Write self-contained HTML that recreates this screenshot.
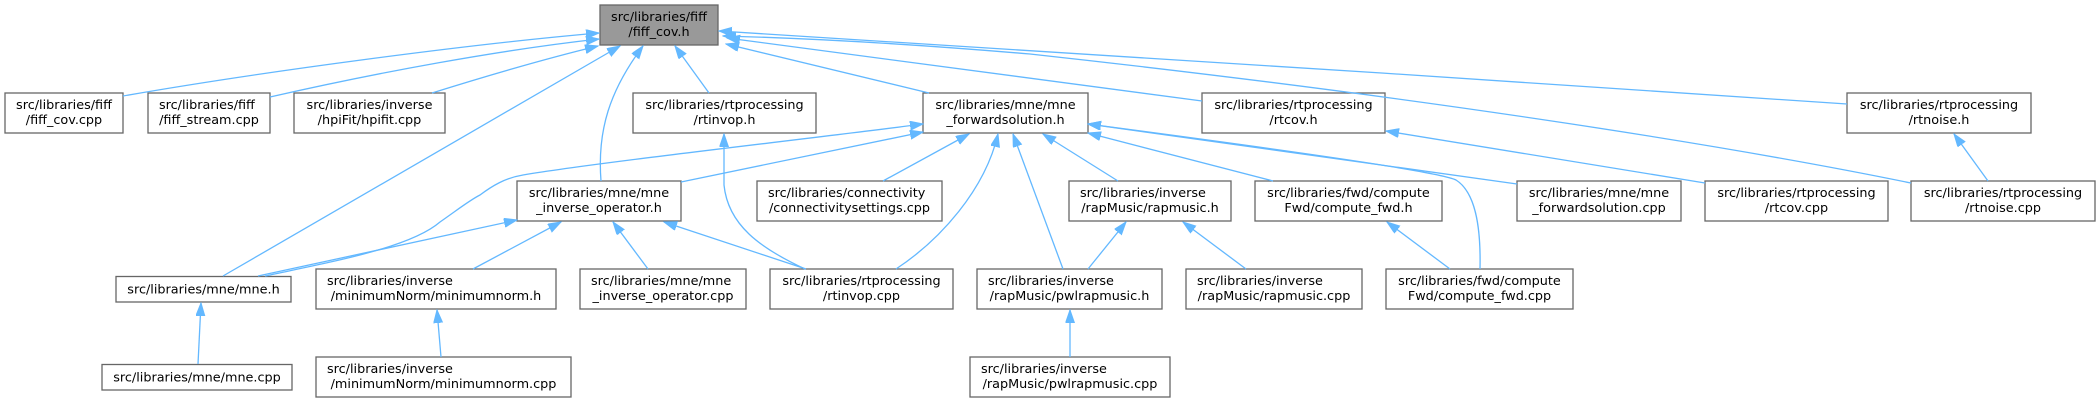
<!DOCTYPE html>
<html>
<head>
<meta charset="utf-8">
<style>
html,body{margin:0;padding:0;background:#fff;}
svg{display:block;}
text{font-family:"DejaVu Sans","Liberation Sans",sans-serif;font-size:12.8px;fill:#000;}
.b{fill:#fff;stroke:#666;stroke-width:1.3;}
.g{fill:#999;stroke:#666;stroke-width:1.3;}
.e{fill:none;stroke:#63b8ff;stroke-width:1.3;marker-end:url(#ah);}
</style>
</head>
<body>
<svg width="2100" height="403" viewBox="0 0 2100 403" xmlns="http://www.w3.org/2000/svg">
<defs>
<marker id="ah" markerWidth="14" markerHeight="10" refX="13" refY="4.5" orient="auto" markerUnits="userSpaceOnUse">
<path d="M0,0 L13,4.5 L0,9 z" fill="#63b8ff" stroke="#63b8ff" stroke-width="1"/>
</marker>
</defs>

<!-- Nodes -->
<!-- rank 0 -->
<rect class="g" x="600" y="5" width="118" height="40"/>
<text x="659" y="21" text-anchor="middle">src/libraries/fiff</text>
<text x="659" y="36" text-anchor="middle">/fiff_cov.h</text>

<!-- rank 1 -->
<rect class="b" x="5" y="93" width="118" height="40"/>
<text x="64" y="109" text-anchor="middle">src/libraries/fiff</text>
<text x="64" y="124" text-anchor="middle">/fiff_cov.cpp</text>

<rect class="b" x="148" y="93" width="122" height="40"/>
<text x="159" y="109">src/libraries/fiff</text>
<text x="209" y="124" text-anchor="middle">/fiff_stream.cpp</text>

<rect class="b" x="294" y="93" width="151" height="40"/>
<text x="369.5" y="109" text-anchor="middle">src/libraries/inverse</text>
<text x="369.5" y="124" text-anchor="middle">/hpiFit/hpifit.cpp</text>

<rect class="b" x="633" y="93" width="183" height="40"/>
<text x="724.5" y="109" text-anchor="middle">src/libraries/rtprocessing</text>
<text x="724.5" y="124" text-anchor="middle">/rtinvop.h</text>

<rect class="b" x="923" y="93" width="165" height="40"/>
<text x="1005.5" y="109" text-anchor="middle">src/libraries/mne/mne</text>
<text x="1005.5" y="124" text-anchor="middle">_forwardsolution.h</text>

<rect class="b" x="1202" y="93" width="183" height="40"/>
<text x="1293.5" y="109" text-anchor="middle">src/libraries/rtprocessing</text>
<text x="1293.5" y="124" text-anchor="middle">/rtcov.h</text>

<rect class="b" x="1847" y="93" width="184" height="40"/>
<text x="1939" y="109" text-anchor="middle">src/libraries/rtprocessing</text>
<text x="1939" y="124" text-anchor="middle">/rtnoise.h</text>

<!-- rank 2 -->
<rect class="b" x="517" y="181" width="164" height="40"/>
<text x="599" y="197" text-anchor="middle">src/libraries/mne/mne</text>
<text x="599" y="212" text-anchor="middle">_inverse_operator.h</text>

<rect class="b" x="757" y="181" width="185" height="40"/>
<text x="768" y="197">src/libraries/connectivity</text>
<text x="849.5" y="212" text-anchor="middle">/connectivitysettings.cpp</text>

<rect class="b" x="1069" y="181" width="162" height="40"/>
<text x="1080" y="197">src/libraries/inverse</text>
<text x="1150" y="212" text-anchor="middle">/rapMusic/rapmusic.h</text>

<rect class="b" x="1255" y="181" width="187" height="40"/>
<text x="1348.5" y="197" text-anchor="middle">src/libraries/fwd/compute</text>
<text x="1348.5" y="212" text-anchor="middle">Fwd/compute_fwd.h</text>

<rect class="b" x="1517" y="181" width="164" height="40"/>
<text x="1599" y="197" text-anchor="middle">src/libraries/mne/mne</text>
<text x="1599" y="212" text-anchor="middle">_forwardsolution.cpp</text>

<rect class="b" x="1705" y="181" width="183" height="40"/>
<text x="1796.5" y="197" text-anchor="middle">src/libraries/rtprocessing</text>
<text x="1796.5" y="212" text-anchor="middle">/rtcov.cpp</text>

<rect class="b" x="1911" y="181" width="184" height="40"/>
<text x="2003" y="197" text-anchor="middle">src/libraries/rtprocessing</text>
<text x="2003" y="212" text-anchor="middle">/rtnoise.cpp</text>

<!-- rank 3 -->
<rect class="b" x="116" y="276.5" width="175" height="25.5"/>
<text x="203.5" y="293.5" text-anchor="middle">src/libraries/mne/mne.h</text>

<rect class="b" x="316" y="269" width="240" height="40"/>
<text x="327" y="285">src/libraries/inverse</text>
<text x="436" y="300" text-anchor="middle">/minimumNorm/minimumnorm.h</text>

<rect class="b" x="580" y="269" width="166" height="40"/>
<text x="591" y="285">src/libraries/mne/mne</text>
<text x="663" y="300" text-anchor="middle">_inverse_operator.cpp</text>

<rect class="b" x="770" y="269" width="183" height="40"/>
<text x="861.5" y="285" text-anchor="middle">src/libraries/rtprocessing</text>
<text x="861.5" y="300" text-anchor="middle">/rtinvop.cpp</text>

<rect class="b" x="977" y="269" width="185" height="40"/>
<text x="988" y="285">src/libraries/inverse</text>
<text x="1069.5" y="300" text-anchor="middle">/rapMusic/pwlrapmusic.h</text>

<rect class="b" x="1186" y="269" width="176" height="40"/>
<text x="1197" y="285">src/libraries/inverse</text>
<text x="1274" y="300" text-anchor="middle">/rapMusic/rapmusic.cpp</text>

<rect class="b" x="1386" y="269" width="187" height="40"/>
<text x="1479.5" y="285" text-anchor="middle">src/libraries/fwd/compute</text>
<text x="1479.5" y="300" text-anchor="middle">Fwd/compute_fwd.cpp</text>

<!-- rank 4 -->
<rect class="b" x="102" y="364.5" width="190" height="25.5"/>
<text x="197" y="381.5" text-anchor="middle">src/libraries/mne/mne.cpp</text>

<rect class="b" x="316" y="357" width="255" height="40"/>
<text x="327" y="373">src/libraries/inverse</text>
<text x="443.5" y="388" text-anchor="middle">/minimumNorm/minimumnorm.cpp</text>

<rect class="b" x="970" y="357" width="200" height="40"/>
<text x="981" y="373">src/libraries/inverse</text>
<text x="1070" y="388" text-anchor="middle">/rapMusic/pwlrapmusic.cpp</text>

<!-- Edges into fiff_cov.h -->
<path class="e" d="M123,96 C260,72 470,44 599,33"/>
<path class="e" d="M270,97 C380,72 500,50 599,39"/>
<path class="e" d="M432,93 C480,78 540,60 598,46"/>
<path class="e" d="M223,276 L620,46"/>
<path class="e" d="M601,181 C597,130 610,90 643,46"/>
<path class="e" d="M709,93 L675,46"/>
<path class="e" d="M929,93 L726,44"/>
<path class="e" d="M1202,101 L727,38"/>
<path class="e" d="M1847,104 C1500,80 900,42 719,31"/>
<path class="e" d="M1911,183 C1750,150 1450,100 1030,54 C900,43 800,38 723,36"/>

<!-- Edges into mne_forwardsolution.h -->
<path class="e" d="M265,276 C330,262 410,248 440,222 C460,208 470,200 480,195 C492,186 505,178 523,175 C600,162 800,140 923,124"/>
<path class="e" d="M681,182 L923,132"/>
<path class="e" d="M883,181 L969,134"/>
<path class="e" d="M896,269 C940,240 985,190 998,134"/>
<path class="e" d="M1063,269 L1013,134"/>
<path class="e" d="M1118,181 L1043,134"/>
<path class="e" d="M1273,181 L1088,133"/>
<path class="e" d="M1480,269 C1481,225 1475,192 1456,180 C1440,172 1300,152 1088,124"/>
<path class="e" d="M1517,184 L1088,124"/>

<!-- Edges into mne_inverse_operator.h -->
<path class="e" d="M258,276 L517,220"/>
<path class="e" d="M473,269 L561,222"/>
<path class="e" d="M648,269 L613,222"/>
<path class="e" d="M806,269 L664,222"/>

<!-- Edge into rtinvop.h -->
<path class="e" d="M805,269 C760,248 728,225 724,185 L724,134"/>

<!-- Edges into rapmusic.h -->
<path class="e" d="M1088,269 L1126,222"/>
<path class="e" d="M1246,269 L1183,222"/>

<!-- Edge into compute_fwd.h -->
<path class="e" d="M1450,269 L1387,222"/>

<!-- Edge into rtnoise.h -->
<path class="e" d="M1988,181 L1954,134"/>

<!-- Edge into rtcov.h -->
<path class="e" d="M1705,183 L1386,131"/>

<!-- Edge into minimumnorm.h -->
<path class="e" d="M441,357 L437,310"/>

<!-- Edge into mne.h -->
<path class="e" d="M198,364 L201,303"/>

<!-- Edge into pwlrapmusic.h -->
<path class="e" d="M1070,357 L1070,310"/>
</svg>
</body>
</html>
